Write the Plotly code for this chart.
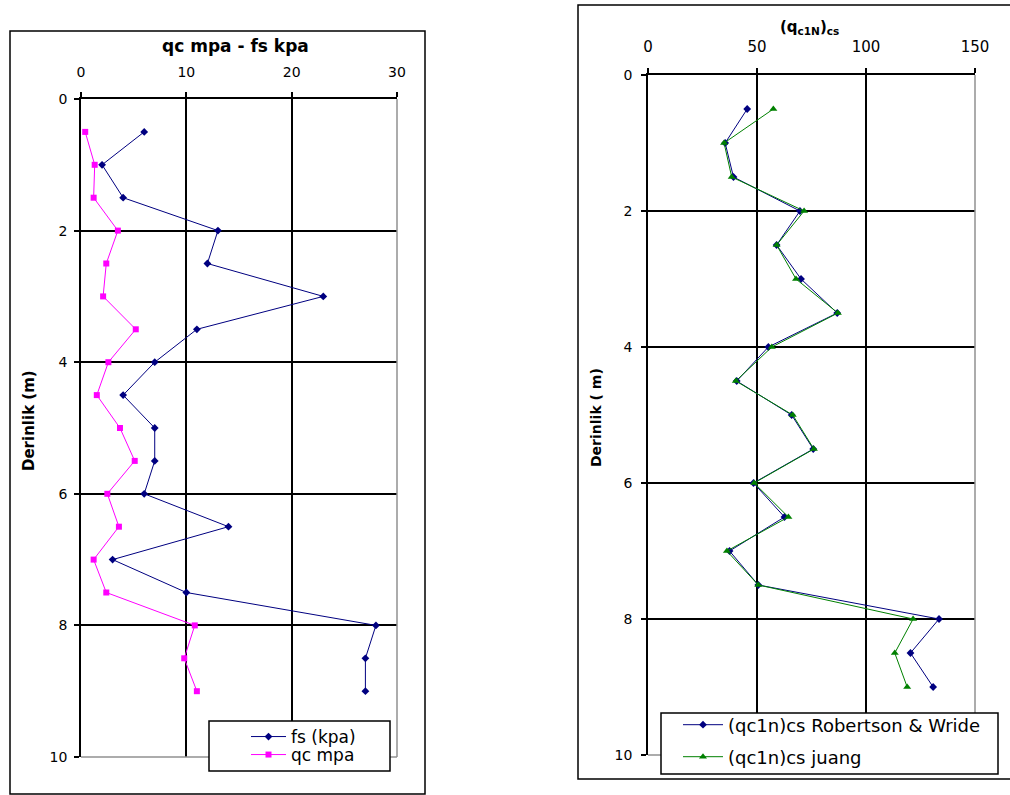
import plotly.graph_objects as go

W, H = 1010, 795

def px(x):
    return x / W

def py(y):
    return 1 - y / H

# ---- data ----
depth = [0.5, 1.0, 1.5, 2.0, 2.5, 3.0, 3.5, 4.0, 4.5, 5.0, 5.5, 6.0, 6.5, 7.0, 7.5, 8.0, 8.5, 9.0]
fs_kpa = [6, 2, 4, 13, 12, 23, 11, 7, 4, 7, 7, 6, 14, 3, 10, 28, 27, 27]
qc_mpa = [0.4, 1.3, 1.2, 3.5, 2.4, 2.1, 5.2, 2.6, 1.5, 3.7, 5.1, 2.5, 3.6, 1.2, 2.4, 10.8, 9.8, 11.0]
qc1n_robertson = [45.5, 35.4, 39.2, 69.7, 59.0, 70.2, 86.8, 55.2, 40.7, 65.9, 75.8, 48.4, 62.6, 37.4, 50.6, 133.5, 120.4, 130.8]
qc1n_juang = [57.5, 34.9, 38.4, 71.6, 59.0, 67.9, 87.1, 56.8, 40.3, 66.4, 76.1, 48.7, 64.4, 36.2, 50.6, 121.6, 113.2, 118.9]

left_xticks = [0, 10, 20, 30]
right_xticks = [0, 50, 100, 150]
depth_ticks = [0, 2, 4, 6, 8, 10]

FONT = "DejaVu Sans"
NAVY = "#000080"
MAG = "#FF00FF"
GREEN = "#008000"

fig = go.Figure()

fig.add_trace(go.Scatter(x=fs_kpa, y=depth, mode="lines+markers", name="fs (kpa)",
                         line=dict(color=NAVY, width=1), marker=dict(symbol="diamond", size=6, color=NAVY),
                         xaxis="x", yaxis="y", legend="legend"))
fig.add_trace(go.Scatter(x=qc_mpa, y=depth, mode="lines+markers", name="qc mpa",
                         line=dict(color=MAG, width=1), marker=dict(symbol="square", size=6, color=MAG),
                         xaxis="x", yaxis="y", legend="legend2"))
fig.add_trace(go.Scatter(x=qc1n_robertson, y=depth, mode="lines+markers", name="(qc1n)cs Robertson & Wride",
                         line=dict(color=NAVY, width=1), marker=dict(symbol="diamond", size=6, color=NAVY),
                         xaxis="x2", yaxis="y2", legend="legend3"))
fig.add_trace(go.Scatter(x=qc1n_juang, y=depth, mode="lines+markers", name="(qc1n)cs juang",
                         line=dict(color=GREEN, width=1), marker=dict(symbol="triangle-up", size=7, color=GREEN),
                         xaxis="x2", yaxis="y2", legend="legend4"))

def xaxis(domain, anchor, ticks, minor, size):
    return dict(domain=domain, anchor=anchor, side="top", range=[ticks[0], ticks[-1]],
                tickmode="array", tickvals=ticks, showgrid=False, zeroline=False,
                showline=True, linecolor="black", linewidth=1.5,
                ticks="outside", ticklen=5, tickwidth=1.5, tickcolor="black",
                ticklabelstandoff=10,
                tickfont=dict(family=FONT, size=size, color="black"),
                minor=dict(tickmode="array", tickvals=minor, showgrid=True,
                           gridcolor="black", gridwidth=1.5, ticks=""))

def yaxis(domain, anchor, standoff):
    return dict(domain=domain, anchor=anchor, range=[10, 0], tickmode="array",
                tickvals=depth_ticks, showgrid=False, zeroline=False,
                showline=True, linecolor="black", linewidth=1.5,
                ticks="outside", ticklen=5, tickwidth=1.5, tickcolor="black",
                ticklabelstandoff=standoff,
                tickfont=dict(family=FONT, size=14, color="black"),
                minor=dict(tickmode="array", tickvals=[2, 4, 6, 8], showgrid=True,
                           gridcolor="black", gridwidth=1.5, ticks=""))

def leg(x, y, iw, size):
    return dict(x=px(x), y=py(y), xanchor="left", yanchor="middle", bgcolor="rgba(0,0,0,0)",
                borderwidth=0, itemwidth=iw, font=dict(family=FONT, size=size, color="black"),
                tracegroupgap=0)

shapes = [
    # outer chart frames
    dict(type="rect", xref="paper", yref="paper", x0=px(10), x1=px(425), y0=py(794), y1=py(31),
         line=dict(color="black", width=1.5), layer="below"),
    dict(type="rect", xref="paper", yref="paper", x0=px(578), x1=px(1015), y0=py(779), y1=py(5),
         line=dict(color="black", width=1.5), layer="below"),
    # gray right/bottom plot edges
    dict(type="line", xref="x domain", yref="y domain", x0=1, x1=1, y0=0, y1=1, line=dict(color="#909090", width=1.5)),
    dict(type="line", xref="x domain", yref="y domain", x0=0, x1=1, y0=0, y1=0, line=dict(color="#909090", width=1.5)),
    dict(type="line", xref="x2 domain", yref="y2 domain", x0=1, x1=1, y0=0, y1=1, line=dict(color="#909090", width=1.5)),
    dict(type="line", xref="x2 domain", yref="y2 domain", x0=0, x1=1, y0=0, y1=0, line=dict(color="#909090", width=1.5)),
    # legend boxes
    dict(type="rect", xref="paper", yref="paper", x0=px(209), x1=px(390), y0=py(771), y1=py(721),
         line=dict(color="black", width=1.5), fillcolor="white", layer="above"),
    dict(type="rect", xref="paper", yref="paper", x0=px(661), x1=px(998), y0=py(774), y1=py(713),
         line=dict(color="black", width=1.5), fillcolor="white", layer="above"),
]

annotations = [
    dict(text="<b>qc mpa - fs kpa</b>", x=px(235), y=py(46), xref="paper", yref="paper",
         showarrow=False, xanchor="center", yanchor="middle", font=dict(family=FONT, size=17, color="black")),
    dict(text="<b>(q<sub>c1N</sub>)<sub>cs</sub></b>", x=px(809), y=py(28), xref="paper", yref="paper",
         showarrow=False, xanchor="center", yanchor="middle", font=dict(family=FONT, size=15, color="black")),
    dict(text="<b>Derinlik (m)</b>", x=px(29), y=py(421), xref="paper", yref="paper", textangle=-90,
         showarrow=False, xanchor="center", yanchor="middle", font=dict(family=FONT, size=15, color="black")),
    dict(text="<b>Derinlik ( m)</b>", x=px(596), y=py(418), xref="paper", yref="paper", textangle=-90,
         showarrow=False, xanchor="center", yanchor="middle", font=dict(family=FONT, size=14, color="black")),
]

fig.update_layout(
    width=W, height=H, margin=dict(l=0, r=0, t=0, b=0, pad=0, autoexpand=False),
    paper_bgcolor="white", plot_bgcolor="white",
    xaxis=xaxis([px(81), px(397)], "y", left_xticks, [10, 20], 14),
    yaxis=yaxis([py(757), py(99)], "x", 4),
    xaxis2=xaxis([px(648), px(975)], "y2", right_xticks, [50, 100], 15),
    yaxis2=yaxis([py(755), py(75)], "x2", 6),
    legend=leg(246, 737, 35, 17),
    legend2=leg(246, 755, 35, 17),
    legend3=leg(678, 725, 40, 18),
    legend4=leg(678, 757, 40, 18),
    shapes=shapes, annotations=annotations, showlegend=True,
)

fig.write_html("out.html")
